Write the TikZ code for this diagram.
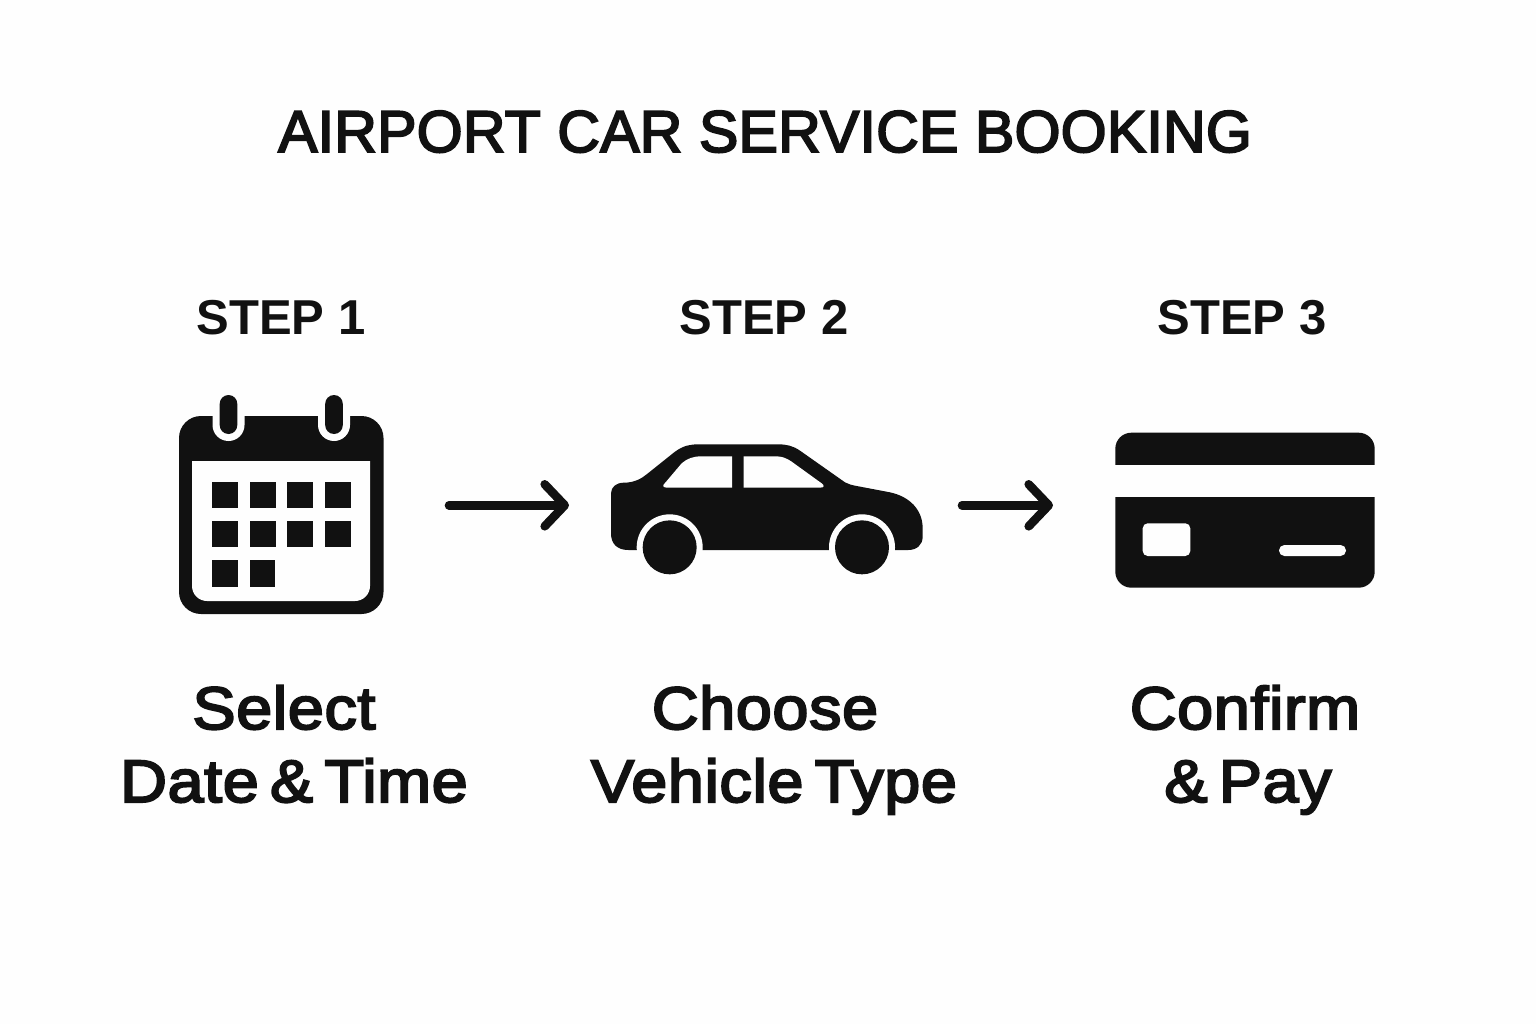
\documentclass[tikz,border=0pt]{standalone}
\usepackage{fontspec}
\usetikzlibrary{arrows.meta}
\setmainfont{Liberation Sans}
\newfontfamily\medfont[FakeBold=3.4,FakeStretch=1.08,WordSpace=0.6,LetterSpace=1,Ligatures=NoCommon]{Liberation Sans}
\newfontfamily\titlefont[FakeBold=3.2,LetterSpace=0.4]{Liberation Sans}
\definecolor{ink}{HTML}{111111}
\definecolor{paper}{HTML}{FEFEFE}
\tikzset{
  ink fill/.style={fill=ink,draw=none},
  paper fill/.style={fill=paper,draw=none},
  titletext/.style={anchor=base,text=ink,inner sep=0pt,font=\titlefont\fontsize{59}{60}\selectfont},
  steptext/.style={anchor=base,text=ink,inner sep=0pt,font=\bfseries\fontsize{49}{49}\selectfont},
  labeltext/.style={anchor=base,text=ink,inner sep=0pt,font=\medfont\fontsize{60}{60}\selectfont},
  flow/.style={draw=ink,line cap=round,line width=8.6pt,
    -{Straight Barb[length=20pt,width=42pt,line width=8.6pt,round]}},
}
\begin{document}
\begin{tikzpicture}[x=1pt,y=-1pt]
\useasboundingbox (0,0) rectangle (1536,1024);
\fill[paper] (0,0) rectangle (1536,1024);
\node[titletext] (title) at (765,152) {AIRPORT CAR SERVICE BOOKING};
\node[steptext] (step1) at (281,334) {STEP 1};
\node[steptext] (step2) at (764,334) {STEP 2};
\node[steptext] (step3) at (1242,334) {STEP 3};
% calendar
\fill[ink fill,rounded corners=22pt] (179,416) rectangle (383.5,614);
\fill[paper fill,rounded corners=15pt] (192,440) rectangle (370,601);
\fill[ink fill] (185,430) rectangle (378,461);
\foreach \px in {212.3,250,287.3,325}
  \foreach \py in {482,521}
    \fill[ink fill] (\px,\py) rectangle ++(25.6,26);
\foreach \px in {212.3,250}
  \fill[ink fill] (\px,560) rectangle ++(25.3,26.5);
\foreach \cx in {228.5,334}{
  \fill[paper fill] (\cx-16,410) -- (\cx-16,425) arc[start angle=180,end angle=0,radius=16] -- (\cx+16,410) -- cycle;
  \fill[ink fill,rounded corners=8.8pt] (\cx-8.8,395) rectangle (\cx+8.8,434);
}
% car
\begin{scope}[shift={(600,430)},x=0.33333pt,y=-0.33333pt]
\fill[ink fill] (85,360) .. controls (50,360) and (33,340) .. (33,310)
  -- (33,190) .. controls (33,170) and (50,158) .. (72,158)
  .. controls (100,158) and (122,148) .. (140,133)
  -- (225,65) .. controls (250,47) and (270,43) .. (295,43)
  -- (535,43) .. controls (560,43) and (580,48) .. (600,62)
  -- (735,157) .. controls (745,163) and (755,165) .. (770,168)
  -- (870,187) .. controls (930,200) and (968,240) .. (968,295)
  -- (968,320) .. controls (968,345) and (950,360) .. (925,360) -- cycle;
\fill[paper fill] (190,165) .. controls (187,170) and (192,173) .. (200,173)
  -- (396,173) -- (396,79) -- (305,79) .. controls (280,79) and (262,85) .. (245,100) -- cycle;
\fill[paper fill] (431,173) -- (660,173) .. controls (672,173) and (675,167) .. (665,160)
  -- (575,95) .. controls (555,82) and (545,79) .. (525,79) -- (431,79) -- cycle;
\foreach \cx in {209,786}{
  \fill[paper fill] (\cx,352) circle[radius=33pt];
  \fill[ink fill] (\cx,352) circle[radius=27pt];
}
\end{scope}
% card
\fill[ink fill,rounded corners=16pt] (1115.3,432.7) rectangle (1374.7,587.7);
\fill[paper fill] (1105,464.7) rectangle (1385,497);
\fill[paper fill,rounded corners=5pt] (1142.7,523.3) rectangle (1190.3,556);
\fill[paper fill,rounded corners=5.4pt] (1279,545) rectangle (1346,556);
% connectors
\coordinate (a1) at (449,505.3);
\coordinate (b1) at (569,505.3);
\coordinate (a2) at (962,505.3);
\coordinate (b2) at (1053,505.3);
\draw[flow] (a1) -- (b1);
\draw[flow] (a2) -- (b2);
% labels
\node[labeltext] (l1a) at (284,729) {Select};
\node[labeltext] (l1b) at (294,802) {Date \& Time};
\node[labeltext] (l2a) at (765,729) {Choose};
\node[labeltext] (l2b) at (774,802) {Vehicle Type};
\node[labeltext] (l3a) at (1245,729) {Confirm};
\node[labeltext] (l3b) at (1248,802) {\& Pay};
\end{tikzpicture}
\end{document}
